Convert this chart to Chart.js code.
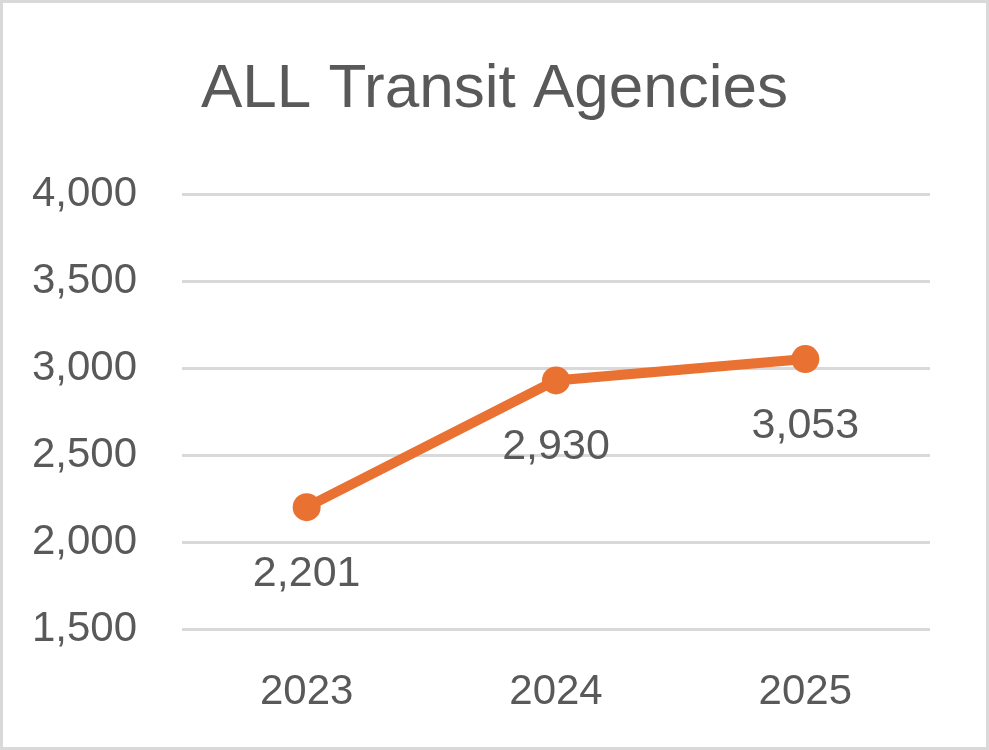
<!doctype html>
<html>
<head>
<meta charset="utf-8">
<title>ALL Transit Agencies</title>
<script src="https://cdn.jsdelivr.net/npm/chart.js"></script>
<style>
  body { margin: 0; background: #fff; }
  .wrap { width: 989px; height: 750px; border: 3px solid #d9d9d9; box-sizing: border-box; background: #fff; }
  canvas { display: block; }
</style>
</head>
<body>
<div class="wrap">
  <canvas id="grafico" width="983" height="744"></canvas>
</div>
<script>
// dados
var anos = ['2023', '2024', '2025'];
var agencias = [2201, 2930, 3053];
var eixoY = { min: 1500, max: 4000, passo: 500 };

var cinza = '#595959';
var laranja = '#E97132';
var fonte = "'Liberation Sans', Arial, sans-serif";

// rotulos embaixo de cada ponto
var rotulos = {
  id: 'rotulos',
  afterDatasetsDraw(chart) {
    var ctx = chart.ctx;
    var meta = chart.getDatasetMeta(0);
    ctx.save();
    ctx.font = '43px ' + fonte;
    ctx.fillStyle = cinza;
    ctx.textAlign = 'center';
    ctx.textBaseline = 'middle';
    meta.data.forEach(function (p, i) {
      var v = chart.data.datasets[0].data[i];
      ctx.fillText(v.toLocaleString('en-US'), p.x, p.y + 67);
    });
    ctx.restore();
  }
};

new Chart(document.getElementById('grafico').getContext('2d'), {
  type: 'line',
  data: {
    labels: anos,
    datasets: [{
      label: 'ALL Transit Agencies',
      data: agencias,
      borderColor: laranja,
      backgroundColor: laranja,
      borderWidth: 10,
      pointRadius: 14,
      pointHoverRadius: 14,
      pointBorderWidth: 0,
      tension: 0
    }]
  },
  options: {
    responsive: false,
    animation: false,
    layout: { padding: 0 },
    plugins: {
      legend: { display: false },
      tooltip: { enabled: false },
      title: {
        display: true,
        text: 'ALL Transit Agencies',
        color: cinza,
        font: { family: fonte, size: 62, weight: 'normal' },
        padding: { top: 50, bottom: 67 }
      }
    },
    scales: {
      x: {
        offset: true,
        grid: { display: false, drawTicks: false },
        border: { display: false },
        ticks: { color: cinza, font: { family: fonte, size: 42 }, padding: 38 },
        afterFit: function (s) { s.height = 118; }
      },
      y: {
        min: eixoY.min,
        max: eixoY.max,
        grid: { color: '#d9d9d9', lineWidth: 3, drawTicks: false },
        border: { display: false },
        ticks: { stepSize: eixoY.passo, color: cinza, font: { family: fonte, size: 42 }, padding: 45 },
        afterFit: function (s) { s.width = 179; }
      },
      // espaco vazio a direita
      y2: {
        position: 'right',
        min: eixoY.min,
        max: eixoY.max,
        grid: { display: false, drawTicks: false },
        border: { display: false },
        ticks: { display: false },
        afterFit: function (s) { s.width = 56; }
      }
    }
  },
  plugins: [rotulos]
});
</script>
</body>
</html>
